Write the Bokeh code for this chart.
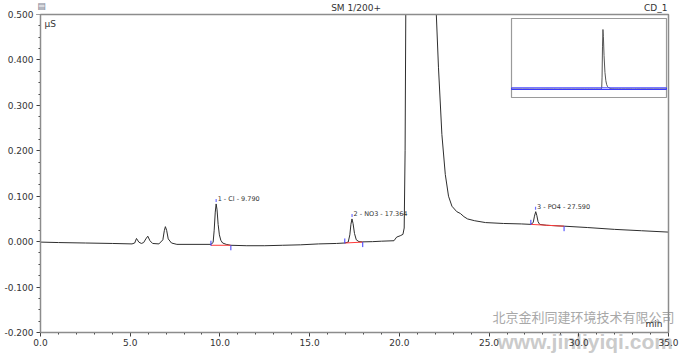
from bokeh.plotting import figure
from bokeh.models import Range1d, SingleIntervalTicker, NumeralTickFormatter, Label, ColumnDataSource
from bokeh.core.properties import value
from bokeh.embed import file_html
from bokeh.resources import INLINE

# ---- chromatogram trace ----
time_min = [0.0, 1.0, 2.5, 4.0, 5.1, 5.25, 5.35, 5.48, 5.62, 5.75, 5.87, 5.98, 6.1, 6.25, 6.6,
            6.82, 6.9, 6.96, 7.03, 7.12, 7.3, 7.6, 8.5, 9.5, 9.62, 9.68, 9.74, 9.79, 9.84, 9.9,
            9.97, 10.05, 10.15, 10.35, 10.6, 11.5, 12.5, 13.5, 14.5, 15.5, 16.5, 16.95, 17.15,
            17.24, 17.3, 17.36, 17.42, 17.5, 17.6, 17.75, 17.95, 18.5, 19.0, 19.7, 19.85, 20.05,
            20.2, 20.27, 20.32, 20.37, 20.45, 20.55, 20.65, 20.75, 20.9, 21.1, 21.3, 21.5, 21.7,
            21.9, 22.06, 22.18, 22.37, 22.56, 22.74, 22.93, 23.2, 23.4, 23.6, 23.8, 24.2, 24.8,
            25.8, 26.8, 27.33, 27.46, 27.53, 27.6, 27.66, 27.73, 27.82, 28.2, 29.2, 30.5, 32.0,
            33.5, 35.0]
signal_uS = [-0.001, -0.002, -0.003, -0.004, -0.005, -0.003, 0.007, -0.001, -0.004, -0.002, 0.006,
             0.012, 0.002, -0.004, -0.005, 0.004, 0.024, 0.033, 0.025, 0.006, -0.003, -0.006,
             -0.006, -0.006, -0.002, 0.025, 0.065, 0.083, 0.070, 0.038, 0.015, 0.003, -0.003,
             -0.006, -0.008, -0.009, -0.009, -0.008, -0.007, -0.005, -0.004, -0.003, -0.001,
             0.015, 0.038, 0.050, 0.040, 0.018, 0.004, 0.000, -0.0005, 0.000, 0.001, 0.002,
             0.010, 0.013, 0.016, 0.030, 0.200, 0.600, 5.0, 18.0, 25.0, 22.0, 14.0, 7.0, 3.5,
             1.8, 1.0, 0.65, 0.50, 0.384, 0.236, 0.148, 0.100, 0.078, 0.066, 0.062, 0.055,
             0.050, 0.046, 0.042, 0.040, 0.039, 0.038, 0.042, 0.056, 0.066, 0.058, 0.044,
             0.038, 0.036, 0.034, 0.031, 0.027, 0.024, 0.021]

# ---- identified peaks ----
peak_numbers = [1, 2, 3]
peak_names = ["Cl", "NO3", "PO4"]
peak_rt = [9.790, 17.364, 27.590]
peak_top = [0.083, 0.050, 0.066]
int_start_t = [9.50, 16.96, 27.33]
int_start_v = [-0.008, -0.003, 0.038]
int_end_t = [10.61, 17.96, 29.18]
int_end_v = [-0.008, -0.001, 0.034]

x_axis_span = (0.0, 35.0)     # time axis, min
y_axis_span = (-0.2, 0.5)     # signal axis, µS
zoom_window = (-0.2, 0.5)     # shown in overview as blue window

FONT = "DejaVu Sans"
TXT = "#333333"

# The frame fills the whole canvas; the view ranges extend past the axis spans
# so that the axes (fixed in data space) sit where the reference shows them.
p = figure(width=680, height=354, x_range=Range1d(-2.229, 35.669), y_range=Range1d(-0.24843, 0.53082),
           output_backend="svg", toolbar_location=None,
           min_border=0, min_border_left=0, min_border_right=0, min_border_top=0, min_border_bottom=0)
p.background_fill_color = "white"
p.border_fill_color = "white"
p.xgrid.visible = False
p.ygrid.visible = False
p.outline_line_color = None

for ax in (p.xaxis[0], p.yaxis[0]):
    ax.axis_line_color = "#404040"
    ax.major_tick_line_color = "#404040"
    ax.minor_tick_line_color = "#404040"
    ax.major_tick_in = 0
    ax.major_tick_out = 4
    ax.minor_tick_in = 0
    ax.minor_tick_out = 2
    ax.major_label_text_font = FONT
    ax.major_label_text_font_size = "9px"
    ax.major_label_text_color = TXT
    ax.major_label_standoff = 3

p.xaxis[0].ticker = SingleIntervalTicker(interval=5, num_minor_ticks=5)
p.xaxis[0].formatter = NumeralTickFormatter(format="0.0")
p.xaxis[0].bounds = x_axis_span
p.xaxis[0].fixed_location = y_axis_span[0]
p.yaxis[0].ticker = SingleIntervalTicker(interval=0.1, num_minor_ticks=4)
p.yaxis[0].formatter = NumeralTickFormatter(format="0.000")
p.yaxis[0].bounds = y_axis_span
p.yaxis[0].fixed_location = x_axis_span[0]

# ---- texts in canvas pixel units ----
def lab(text, X, Y, size="9px", align="left", color=TXT, font=FONT, style="normal", alpha=1.0,
        baseline="middle", level="overlay"):
    p.add_layout(Label(x=X, y=Y, x_units="canvas", y_units="canvas", text=text,
                       text_font=font, text_font_size=size, text_color=color,
                       text_align=align, text_baseline=baseline, text_font_style=style,
                       text_alpha=alpha, level=level))

# watermark sits beneath the chart marks and axis labels
lab("北京金利同建环境技术有限公司", 492, 316, size="13px", color="#a8a8a8",
    font="Noto Sans CJK SC", level="underlay")
lab("www.jinliyiqi.com", 497, 341, size="21px", color="#c4c4c4", font="Liberation Sans",
    style="bold", alpha=0.9, baseline="alphabetic", level="underlay")

# main trace
src = ColumnDataSource(dict(t=time_min, v=signal_uS))
p.line("t", "v", source=src, line_color="#2e2e2e", line_width=1)

# integration baselines and delimiters
p.segment(x0=int_start_t, y0=int_start_v, x1=int_end_t, y1=int_end_v, line_color="#ff3b3b", line_width=1)
p.segment(x0=int_start_t, y0=[v - 0.001 for v in int_start_v], x1=int_start_t,
          y1=[v + 0.010 for v in int_start_v], line_color="#3a3aff", line_width=1)
p.segment(x0=int_end_t, y0=int_end_v, x1=int_end_t,
          y1=[v - 0.011 for v in int_end_v], line_color="#3a3aff", line_width=1)
p.segment(x0=peak_rt, y0=[v + 0.004 for v in peak_top], x1=peak_rt,
          y1=[v + 0.011 for v in peak_top], line_color="#7070ff", line_width=1.2)

labels = [f"{n} - {nm} - {rt:.3f}" for n, nm, rt in zip(peak_numbers, peak_names, peak_rt)]
p.text(x=peak_rt, y=[v + 0.010 for v in peak_top], text=labels, x_offset=1.5,
       text_font=value(FONT), text_font_size="6.5px", text_color=TXT,
       text_baseline="middle", text_align="left")

# ---- overview inset (drawn through extra ranges) ----
p.extra_x_ranges = {"ix": Range1d(-115.39, 38.161)}
p.extra_y_ranges = {"iy": Range1d(-111.50, 37.18)}
p.quad(left=[x_axis_span[0]], right=[x_axis_span[1]], bottom=[-3.56], top=[29.62],
       x_range_name="ix", y_range_name="iy",
       fill_color="white", line_color="#9a9a9a", line_width=1.2)
p.line("t", "v", source=src, x_range_name="ix", y_range_name="iy",
       line_color="#555555", line_width=1)
p.quad(left=[x_axis_span[0]], right=[x_axis_span[1]], bottom=[zoom_window[0]], top=[zoom_window[1]],
       x_range_name="ix", y_range_name="iy",
       fill_alpha=0, line_color="#3a3aff", line_width=1)

# mask the off-scale part of the trace above the plot box (starting just right of the
# y tick labels so they stay visible), then draw the box
p.quad(left=[x_axis_span[0] - 0.2], right=[p.x_range.end + 1], bottom=[y_axis_span[1]],
       top=[p.y_range.end + 0.2], fill_color="white", line_color=None,
       level="annotation")
p.quad(left=[x_axis_span[0]], right=[x_axis_span[1]], bottom=[y_axis_span[0]], top=[y_axis_span[1]],
       fill_alpha=0, line_color="#8c8c8c", line_width=1.5, level="annotation")

lab("▤", 41, 5, size="9px", align="center", color="#7a8090")
lab("µS", 44, 23)
lab("min", 662, 323, align="right")
lab("SM  1/200+", 357, 7, align="center")
lab("CD_1", 667, 7, align="right")

open("out.html", "w").write(file_html(p, INLINE))
